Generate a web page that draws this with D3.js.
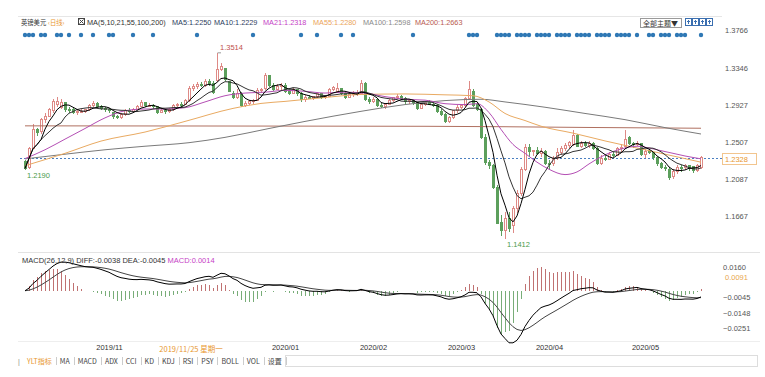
<!DOCTYPE html>
<html>
<head>
<meta charset="utf-8">
<script src="https://cdn.jsdelivr.net/npm/d3@7"></script>
<style>
  body { margin: 0; background: #fff; }
  svg { display: block; }
  text { font-family: "Liberation Sans", Arial, sans-serif; }
  .cjk { font-family: "Noto Sans CJK SC", "Noto Sans", sans-serif; }
</style>
</head>
<body>
<div id="chart"></div>
<script>
// ---- data (GBP/USD daily) ----
var opens = [1.2290,1.2225,1.2440,1.2650,1.2625,1.2760,1.2800,1.2860,1.2930,1.2900,
  1.2950,1.2880,1.2880,1.2840,1.2850,1.2855,1.2870,1.2920,1.2945,1.2905,
  1.2890,1.2870,1.2840,1.2795,1.2785,1.2815,1.2860,1.2850,1.2880,1.2910,
  1.2950,1.2920,1.2925,1.2905,1.2840,1.2860,1.2850,1.2875,1.2920,1.2935,
  1.2930,1.2975,1.3110,1.3130,1.3160,1.3150,1.3185,1.3170,1.3200,1.3330,
  1.3335,1.3190,1.3060,1.3010,1.3060,1.2920,1.2945,1.2960,1.2975,1.3090,
  1.3110,1.3255,1.3145,1.3100,1.3135,1.3150,1.3075,1.3060,1.3100,1.3050,
  1.2990,1.3010,1.3000,1.3020,1.3050,1.3010,1.3025,1.3100,1.3080,1.3110,
  1.3060,1.3010,1.3040,1.3060,1.3060,1.3170,1.2990,1.2960,1.2990,1.2920,
  1.2905,1.2930,1.2975,1.3005,1.3020,1.3000,1.2960,1.2975,1.2950,1.2890,
  1.2930,1.2950,1.2935,1.2920,1.2850,1.2820,1.2740,1.2780,1.2860,1.2900,
  1.2920,1.3000,1.3080,1.2930,1.2880,1.2560,1.2280,1.2240,1.1995,1.1600,
  1.1510,1.1640,1.1560,1.1760,1.1930,1.2200,1.2450,1.2400,1.2410,1.2380,
  1.2400,1.2270,1.2260,1.2330,1.2390,1.2440,1.2470,1.2480,1.2580,1.2460,
  1.2490,1.2470,1.2490,1.2440,1.2270,1.2320,1.2310,1.2370,1.2360,1.2430,
  1.2460,1.2560,1.2490,1.2480,1.2490,1.2370,1.2400,1.2390,1.2330,1.2260,
  1.2220,1.2200,1.2120,1.2170,1.2225,1.2215,1.2240,1.2230,1.2190,1.2220];
var highs = [1.2300,1.2450,1.2708,1.2670,1.2780,1.2840,1.2890,1.2990,1.3010,1.2990,
  1.2960,1.2900,1.2890,1.2870,1.2880,1.2880,1.2935,1.2976,1.2960,1.2930,
  1.2900,1.2890,1.2850,1.2810,1.2830,1.2880,1.2890,1.2895,1.2930,1.2980,
  1.2960,1.2950,1.2940,1.2915,1.2890,1.2880,1.2890,1.2935,1.2950,1.2955,
  1.2990,1.3140,1.3165,1.3180,1.3190,1.3215,1.3215,1.3200,1.3514,1.3400,
  1.3345,1.3200,1.3080,1.3110,1.3070,1.2970,1.2985,1.2990,1.3120,1.3120,
  1.3285,1.3260,1.3170,1.3160,1.3170,1.3175,1.3100,1.3120,1.3110,1.3070,
  1.3040,1.3040,1.3030,1.3070,1.3060,1.3040,1.3120,1.3140,1.3170,1.3120,
  1.3080,1.3060,1.3080,1.3090,1.3205,1.3190,1.3020,1.3010,1.3000,1.2950,
  1.2940,1.2990,1.3020,1.3050,1.3040,1.3010,1.2990,1.2990,1.2960,1.2950,
  1.2970,1.2980,1.2960,1.2935,1.2880,1.2830,1.2800,1.2870,1.2920,1.2940,
  1.3020,1.3200,1.3110,1.2960,1.2890,1.2600,1.2300,1.2260,1.2020,1.1680,
  1.1720,1.1720,1.1780,1.1970,1.2230,1.2480,1.2480,1.2420,1.2450,1.2440,
  1.2420,1.2300,1.2350,1.2440,1.2460,1.2500,1.2520,1.2640,1.2600,1.2520,
  1.2520,1.2520,1.2510,1.2450,1.2360,1.2360,1.2390,1.2410,1.2450,1.2480,
  1.2640,1.2580,1.2510,1.2520,1.2500,1.2430,1.2430,1.2400,1.2340,1.2280,
  1.2250,1.2220,1.2200,1.2245,1.2250,1.2260,1.2250,1.2240,1.2260,1.2345];
var lows = [1.2190,1.2205,1.2430,1.2580,1.2600,1.2720,1.2790,1.2840,1.2900,1.2880,
  1.2850,1.2830,1.2820,1.2810,1.2830,1.2830,1.2860,1.2900,1.2890,1.2870,
  1.2850,1.2840,1.2770,1.2765,1.2770,1.2800,1.2830,1.2840,1.2870,1.2900,
  1.2900,1.2900,1.2880,1.2820,1.2830,1.2820,1.2840,1.2860,1.2900,1.2900,
  1.2920,1.2960,1.3080,1.3110,1.3130,1.3130,1.3140,1.3050,1.3180,1.3310,
  1.3200,1.3070,1.2990,1.2990,1.2905,1.2905,1.2930,1.2940,1.2965,1.3060,
  1.3100,1.3130,1.3080,1.3090,1.3100,1.3060,1.3040,1.3050,1.3030,1.2960,
  1.2960,1.2990,1.2980,1.3000,1.2990,1.2990,1.3010,1.3080,1.3060,1.3040,
  1.2990,1.3000,1.3020,1.3030,1.3050,1.2975,1.2940,1.2950,1.2900,1.2890,
  1.2880,1.2920,1.2960,1.2990,1.2990,1.2940,1.2940,1.2930,1.2870,1.2880,
  1.2910,1.2920,1.2900,1.2830,1.2800,1.2720,1.2725,1.2770,1.2840,1.2880,
  1.2900,1.2980,1.2900,1.2860,1.2540,1.2250,1.2200,1.1980,1.1580,1.1450,
  1.1412,1.1490,1.1480,1.1710,1.1900,1.2180,1.2340,1.2350,1.2360,1.2340,
  1.2250,1.2200,1.2240,1.2300,1.2360,1.2410,1.2440,1.2460,1.2450,1.2440,
  1.2450,1.2440,1.2420,1.2250,1.2250,1.2290,1.2300,1.2340,1.2350,1.2400,
  1.2440,1.2470,1.2440,1.2460,1.2350,1.2330,1.2370,1.2300,1.2240,1.2200,
  1.2180,1.2075,1.2090,1.2150,1.2170,1.2190,1.2180,1.2160,1.2170,1.2200];
var closes = [1.2210,1.2435,1.2650,1.2620,1.2760,1.2800,1.2870,1.2960,1.2970,1.2950,
  1.2880,1.2860,1.2840,1.2850,1.2855,1.2870,1.2920,1.2945,1.2905,1.2890,
  1.2870,1.2860,1.2795,1.2785,1.2815,1.2860,1.2850,1.2880,1.2910,1.2950,
  1.2920,1.2925,1.2905,1.2840,1.2860,1.2850,1.2875,1.2920,1.2935,1.2930,
  1.2975,1.3110,1.3130,1.3160,1.3150,1.3185,1.3170,1.3070,1.3330,1.3365,
  1.3215,1.3080,1.3010,1.3060,1.2920,1.2945,1.2960,1.2975,1.3090,1.3105,
  1.3255,1.3145,1.3100,1.3135,1.3150,1.3075,1.3060,1.3100,1.3050,1.2990,
  1.3010,1.3000,1.3020,1.3050,1.3010,1.3025,1.3100,1.3120,1.3110,1.3060,
  1.3010,1.3040,1.3060,1.3065,1.3170,1.2990,1.2960,1.2990,1.2920,1.2905,
  1.2930,1.2975,1.3005,1.3020,1.3000,1.2960,1.2975,1.2950,1.2890,1.2930,
  1.2950,1.2935,1.2920,1.2850,1.2820,1.2740,1.2780,1.2860,1.2900,1.2920,
  1.3000,1.3100,1.2920,1.2880,1.2560,1.2280,1.2240,1.1995,1.1590,1.1510,
  1.1640,1.1530,1.1760,1.1930,1.2200,1.2450,1.2400,1.2410,1.2380,1.2400,
  1.2270,1.2250,1.2320,1.2390,1.2440,1.2470,1.2500,1.2580,1.2460,1.2490,
  1.2470,1.2490,1.2440,1.2270,1.2320,1.2310,1.2370,1.2360,1.2430,1.2450,
  1.2540,1.2490,1.2480,1.2495,1.2370,1.2400,1.2390,1.2330,1.2260,1.2220,
  1.2210,1.2110,1.2170,1.2225,1.2215,1.2240,1.2205,1.2190,1.2245,1.2328];

// long moving averages, read as [candle index, value]
var ma21Pts = [[0,1.2320],[5,1.2420],[10,1.2540],[15,1.2660],[20,1.2780],[25,1.2860],
  [30,1.2880],[35,1.2880],[40,1.2895],[45,1.2960],[50,1.3030],[55,1.3060],[60,1.3070],
  [65,1.3090],[70,1.3080],[75,1.3060],[80,1.3070],[85,1.3060],[90,1.3020],[95,1.2990],
  [100,1.2980],[105,1.2940],[110,1.2930],[113,1.2940],[116,1.2840],[119,1.2650],
  [122,1.2480],[125,1.2380],[128,1.2280],[131,1.2200],[135,1.2140],[138,1.2170],
  [141,1.2260],[144,1.2340],[147,1.2400],[150,1.2440],[153,1.2460],[156,1.2440],
  [159,1.2410],[162,1.2380],[165,1.2350],[169,1.2318]];
var ma55Pts = [[0,1.2240],[10,1.2380],[19,1.2518],[30,1.2620],[40,1.2740],[52,1.2887],
  [59,1.2943],[65,1.2966],[75,1.3010],[84,1.3044],[95,1.3050],[105,1.3040],[112,1.3030],
  [116,1.2960],[120,1.2830],[125,1.2750],[129,1.2686],[137,1.2608],[145,1.2520],
  [154,1.2430],[162,1.2350],[169,1.2280]];
var ma100Pts = [[0,1.2317],[10,1.2370],[20,1.2420],[30,1.2460],[41,1.2500],[50,1.2560],
  [61,1.2660],[70,1.2740],[84,1.2854],[95,1.2930],[105,1.2975],[114,1.2990],[120,1.2960],
  [130,1.2900],[140,1.2830],[150,1.2760],[160,1.2670],[169,1.2598]];
var ma200Pts = [[0,1.2690],[50,1.2688],[100,1.2685],[120,1.2680],[140,1.2672],[169,1.2663]];

var priceTicks = [1.3766, 1.3346, 1.2927, 1.2507, 1.2087, 1.1667];
var lastPrice = 1.2328;
var highMark = {i: 48, v: 1.3514};
var lowMarks = [{i: 0, v: 1.2190}, {i: 120, v: 1.1412}];

var macdTicks = [0.0160, -0.0045, -0.0148, -0.0251];
var macdCursor = 0.0091;

var monthIdx = [21, 65, 87, 109, 131, 155];
var monthLabels = ["2019/11", "2020/01", "2020/02", "2020/03", "2020/04", "2020/05"];
var cursorDate = "2019/11/25 星期一";

var eventDays = [0,1,2,4,5,8,9,11,14,17,21,22,27,32,43,57,69,73,79,82,97,111,112,113,
  118,119,120,121,123,124,125,126,128,129,130,131,133,134,135,136,138,139,140,141,
  143,144,145,146,148,149,150,151,153,156,157,159,160,161,163,164,165,169];

var maNames = ["MA5", "MA10", "MA21", "MA55", "MA100", "MA200"];
var maLast = ["1.2250", "1.2229", "1.2318", "1.2280", "1.2598", "1.2663"];
var maColors = ["#2d3e5e", "#2d3e5e", "#c63fc6", "#eba45a", "#8a8a8a", "#b85a50"];
var maLegendX = [172, 214, 263, 313, 363, 415];

var tabs = ["YLT指标", "MA", "MACD", "ADX", "CCI", "KD", "KDJ", "RSI", "PSY", "BOLL", "VOL", "设置"];

// ---- chart ----
var W = 765, H = 377;
var svg = d3.select("#chart").append("svg").attr("width", W).attr("height", H);

var x = d3.scaleLinear().domain([0, closes.length - 1]).range([25, 701]);
var y = d3.scaleLinear().domain([1.1667, 1.3766]).range([216.5, 30.5]);
var my = d3.scaleLinear().domain([-0.0251, 0.0160]).range([328, 267]);

// frame lines
svg.append("line").attr("x1", 18).attr("x2", 722).attr("y1", 16.5).attr("y2", 16.5).attr("stroke", "#e6e6e6");
svg.append("line").attr("x1", 18).attr("x2", 760).attr("y1", 252.5).attr("y2", 252.5).attr("stroke", "#e3e3e3");
svg.append("line").attr("x1", 18).attr("x2", 760).attr("y1", 341.5).attr("y2", 341.5).attr("stroke", "#eeeeee");

// header
var header = svg.append("g");
header.append("text").attr("class", "cjk").attr("x", 21).attr("y", 25)
  .attr("font-size", "6.3px").attr("fill", "#333").text("英镑美元");
header.append("text").attr("class", "cjk").attr("x", 48).attr("y", 25)
  .attr("font-size", "6.3px").attr("fill", "#e8962e").text("‹日线›");
header.append("rect").attr("x", 78.5).attr("y", 18.5).attr("width", 6).attr("height", 6)
  .attr("fill", "none").attr("stroke", "#444");
header.append("path").attr("d", "M79.5,19.5L83.5,23.5M83.5,19.5L79.5,23.5").attr("stroke", "#444");
header.append("text").attr("x", 87).attr("y", 25).attr("font-size", "7.3px").attr("fill", "#333")
  .text("MA(5,10,21,55,100,200)");
maNames.forEach(function(n, k) {
  header.append("text").attr("x", maLegendX[k]).attr("y", 25).attr("font-size", "7.3px")
    .attr("fill", maColors[k]).text(n + ":" + maLast[k]);
});

// top right buttons
svg.append("rect").attr("x", 640.5).attr("y", 18.5).attr("width", 41).attr("height", 9)
  .attr("fill", "#fff").attr("stroke", "#9a9a9a");
svg.append("text").attr("class", "cjk").attr("x", 643).attr("y", 25.5).attr("font-size", "7px")
  .attr("fill", "#333").text("全部主题▼");
[685, 692, 699, 706].forEach(function(bx) {
  svg.append("rect").attr("x", bx + 0.5).attr("y", 18.5).attr("width", 6).attr("height", 7)
    .attr("fill", "#fff").attr("stroke", "#3b6fb0");
  svg.append("path").attr("d", "M" + (bx + 2) + ",21.5h3M" + (bx + 3.5) + ",20v4")
    .attr("stroke", "#3b6fb0");
});

// event dots
svg.append("g").selectAll("circle").data(eventDays).enter().append("circle")
  .attr("cx", d => x(d)).attr("cy", 35).attr("r", 2.2).attr("fill", "#2f78b5");

// price axis
var yAxis = d3.axisRight(y).tickValues(priceTicks).tickSize(0).tickPadding(0)
  .tickFormat(d3.format(".4f"));
var yAxisG = svg.append("g").attr("transform", "translate(725,0)").call(yAxis);
yAxisG.select(".domain").remove();
yAxisG.selectAll("text").attr("font-size", "7.5px").attr("fill", "#555")
  .attr("font-family", "Liberation Sans, Arial, sans-serif");

// last price line
svg.append("line").attr("x1", 20).attr("x2", 722)
  .attr("y1", Math.round(y(lastPrice)) + 0.5).attr("y2", Math.round(y(lastPrice)) + 0.5)
  .attr("stroke", "#4a7fc1").attr("stroke-dasharray", "2,2");
svg.append("rect").attr("x", 722.5).attr("y", Math.round(y(lastPrice)) - 4.5)
  .attr("width", 34).attr("height", 11).attr("fill", "#fff").attr("stroke", "#f2c58e");
svg.append("text").attr("x", 725).attr("y", y(lastPrice) + 4).attr("font-size", "7.5px")
  .attr("fill", "#e8962e").text(lastPrice.toFixed(4));

// candles
var candles = closes.map(function(c, i) {
  return {i: i, o: opens[i], h: highs[i], l: lows[i], c: c};
});
var upColor = "#de8a86", downColor = "#5c9f5c";
var candleG = svg.append("g").attr("shape-rendering", "crispEdges");
candleG.selectAll("line").data(candles).enter().append("line")
  .attr("x1", d => Math.round(x(d.i)) + 0.5).attr("x2", d => Math.round(x(d.i)) + 0.5)
  .attr("y1", d => y(d.h)).attr("y2", d => y(d.l))
  .attr("stroke", d => d.c >= d.o ? upColor : downColor);
candleG.selectAll("rect").data(candles).enter().append("rect")
  .attr("x", d => Math.round(x(d.i)) - 0.5)
  .attr("width", 2)
  .attr("y", d => y(Math.max(d.o, d.c)))
  .attr("height", d => Math.max(1, Math.abs(y(d.o) - y(d.c))))
  .attr("fill", d => d.c >= d.o ? "#fff" : downColor)
  .attr("stroke", d => d.c >= d.o ? upColor : downColor);

// moving averages
function movingAvg(n) {
  return closes.map(function(c, i) {
    var s = closes.slice(Math.max(0, i - n + 1), i + 1);
    return [i, d3.mean(s)];
  });
}
var lineGen = d3.line().x(d => x(d[0])).y(d => y(d[1]));
var smoothGen = d3.line().x(d => x(d[0])).y(d => y(d[1])).curve(d3.curveMonotoneX);
var maG = svg.append("g").attr("fill", "none");
maG.append("path").attr("d", smoothGen(ma200Pts)).attr("stroke", "#b07060").attr("stroke-width", 1);
maG.append("path").attr("d", smoothGen(ma100Pts)).attr("stroke", "#7a7a7a").attr("stroke-width", 1);
maG.append("path").attr("d", smoothGen(ma55Pts)).attr("stroke", "#e9aa62").attr("stroke-width", 1);
maG.append("path").attr("d", smoothGen(ma21Pts)).attr("stroke", "#b44fb4").attr("stroke-width", 1);
maG.append("path").attr("d", lineGen(movingAvg(10))).attr("stroke", "#333").attr("stroke-width", 1);
maG.append("path").attr("d", lineGen(movingAvg(5))).attr("stroke", "#000").attr("stroke-width", 1);

// high / low marks
svg.append("line").attr("x1", x(highMark.i) + 0.5).attr("x2", x(highMark.i) + 4)
  .attr("y1", y(highMark.v)).attr("y2", y(highMark.v)).attr("stroke", "#999");
svg.append("text").attr("x", x(highMark.i) + 3).attr("y", y(highMark.v) - 3)
  .attr("font-size", "7.5px").attr("fill", "#c0504d").text(highMark.v.toFixed(4));
lowMarks.forEach(function(m) {
  svg.append("text").attr("x", x(m.i) + 2).attr("y", y(m.v) + 8)
    .attr("font-size", "7.5px").attr("fill", "#4a9a4a").text(m.v.toFixed(4));
});

// MACD
var ema12 = [], ema26 = [], diff = [], dea = [], bars = [];
closes.forEach(function(c, i) {
  ema12.push(i ? ema12[i - 1] + (c - ema12[i - 1]) * 2 / 13 : c);
  ema26.push(i ? ema26[i - 1] + (c - ema26[i - 1]) * 2 / 27 : c);
  diff.push(ema12[i] - ema26[i]);
  dea.push(i ? dea[i - 1] + (diff[i] - dea[i - 1]) * 2 / 10 : 0);
  bars.push(2 * (diff[i] - dea[i]));
});

svg.append("g").selectAll("line").data(bars).enter().append("line")
  .attr("shape-rendering", "crispEdges")
  .attr("x1", (d, i) => Math.round(x(i)) + 0.5).attr("x2", (d, i) => Math.round(x(i)) + 0.5)
  .attr("y1", my(0)).attr("y2", d => my(d))
  .attr("stroke", d => d >= 0 ? "#c07272" : "#78ad78");

var macdLine = d3.line().x((d, i) => x(i)).y(d => my(d));
svg.append("path").attr("d", macdLine(dea)).attr("fill", "none").attr("stroke", "#444").attr("stroke-width", 1);
svg.append("path").attr("d", macdLine(diff)).attr("fill", "none").attr("stroke", "#000").attr("stroke-width", 1);

var macdTitle = svg.append("text").attr("x", 22).attr("y", 263).attr("font-size", "7.5px");
macdTitle.append("tspan").attr("fill", "#333").text("MACD(26,12,9) DIFF:-0.0038  DEA:-0.0045  ");
macdTitle.append("tspan").attr("fill", "#c63fc6").text("MACD:0.0014");

var mAxis = d3.axisRight(my).tickValues(macdTicks).tickSize(0).tickPadding(0)
  .tickFormat(d3.format(".4f"));
var mAxisG = svg.append("g").attr("transform", "translate(723,0)").call(mAxis);
mAxisG.select(".domain").remove();
mAxisG.selectAll("text").attr("font-size", "7.5px").attr("fill", "#555")
  .attr("font-family", "Liberation Sans, Arial, sans-serif");
svg.append("text").attr("x", 725).attr("y", my(macdCursor) + 3).attr("font-size", "7.5px")
  .attr("fill", "#e8a64e").text(macdCursor.toFixed(4));

// date axis
var xAxis = d3.axisBottom(x).tickValues(monthIdx).tickSize(0).tickPadding(0)
  .tickFormat((d, k) => monthLabels[k]);
var xAxisG = svg.append("g").attr("transform", "translate(0,345)").call(xAxis);
xAxisG.select(".domain").remove();
xAxisG.selectAll("text").attr("font-size", "7.5px").attr("fill", "#333")
  .attr("font-family", "Liberation Sans, Arial, sans-serif");
svg.append("text").attr("class", "cjk").attr("x", 191).attr("y", 352).attr("text-anchor", "middle")
  .attr("font-size", "7.5px").attr("fill", "#e8962e").text(cursorDate);

// tab bar
svg.append("rect").attr("x", 285.5).attr("y", 355.5).attr("width", 472).attr("height", 11)
  .attr("fill", "none").attr("stroke", "#dddddd");
var tabG = svg.append("g");
var tx = 18;
tabG.append("text").attr("x", tx).attr("y", 364).attr("font-size", "7px").attr("fill", "#888").text("|");
tx += 5;
tabs.forEach(function(t, k) {
  var el = tabG.append("text").attr("class", "cjk").attr("x", tx + 4).attr("y", 364)
    .attr("font-size", "7px").attr("font-family", "Liberation Serif, serif")
    .attr("fill", k === 0 ? "#e8962e" : "#444").text(t);
  tx += el.node().getComputedTextLength() + 8;
  tabG.append("line").attr("x1", Math.round(tx) + 0.5).attr("x2", Math.round(tx) + 0.5)
    .attr("y1", 357).attr("y2", 365).attr("stroke", "#cccccc");
});
</script>
</body>
</html>
